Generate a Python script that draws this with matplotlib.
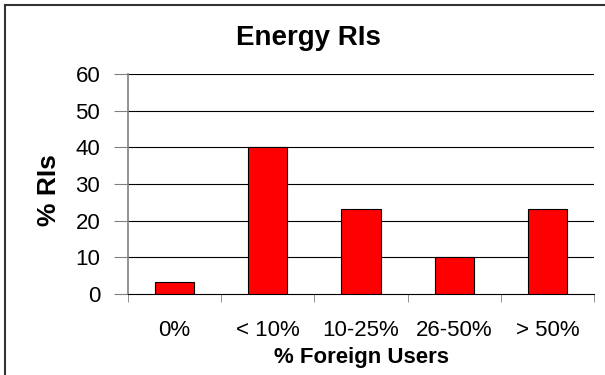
import matplotlib
matplotlib.use("Agg")
import matplotlib.pyplot as plt
from matplotlib.lines import Line2D
import numpy as np

# data
categories = ["0%", "< 10%", "10-25%", "26-50%", "> 50%"]
pct_ris = [3.3, 40, 23.3, 10, 23.3]
yticks = [0, 10, 20, 30, 40, 50, 60]

plt.rcParams['font.family'] = ['Liberation Sans', 'DejaVu Sans']

W, H = 605, 375
fig = plt.figure(figsize=(W/100, H/100), dpi=100)
fig.patch.set_facecolor('white')

# plot area in pixels
x0, x1 = 128, 594
y_top, y_bot = 74, 294
ax = fig.add_axes([x0/W, 1 - y_bot/H, (x1 - x0)/W, (y_bot - y_top)/H])

x = np.arange(len(categories))
ax.bar(x, pct_ris, width=0.42, color='#FF0000', edgecolor='black', linewidth=0.8, zorder=3)

ax.set_xlim(-0.5, len(categories) - 0.5)
ax.set_ylim(0, 60)
ax.set_yticks(yticks)
ax.tick_params(axis='y', labelsize=16, direction='out', length=10, color='#808080', pad=10)

ax.set_xticks(x)
ax.set_xticklabels(categories)
ax.tick_params(axis='x', which='major', labelsize=16, length=0, pad=19)
ax.set_xticks(np.arange(-0.5, len(categories)), minor=True)
ax.tick_params(axis='x', which='minor', direction='out', length=6, color='#808080')

for yv in yticks[1:]:
    ax.axhline(yv, color='black', linewidth=0.8, zorder=1)

for s in ['top', 'right']:
    ax.spines[s].set_visible(False)
ax.spines['left'].set_color('#808080')
ax.spines['left'].set_linewidth(1.2)
ax.spines['bottom'].set_color('black')
ax.spines['bottom'].set_linewidth(0.8)

# labels
fig.text(308/W, 1 - 38/H, "Energy RIs", fontsize=20, fontweight='bold', ha='center', va='center')
fig.text(49/W, 1 - 190/H, "% RIs", fontsize=19, fontweight='bold', rotation=90, ha='center', va='center')
fig.text(361/W, 1 - 358/H, "% Foreign Users", fontsize=16, fontweight='bold', ha='center', va='center')

# outer border (left and top visible)
fig.add_artist(Line2D([5/W, 5/W], [0, 1 - 5/H], color='#333333', linewidth=1.5, transform=fig.transFigure))
fig.add_artist(Line2D([5/W, 1], [1 - 5/H, 1 - 5/H], color='#333333', linewidth=1.5, transform=fig.transFigure))

fig.savefig("out.png", dpi=100)
